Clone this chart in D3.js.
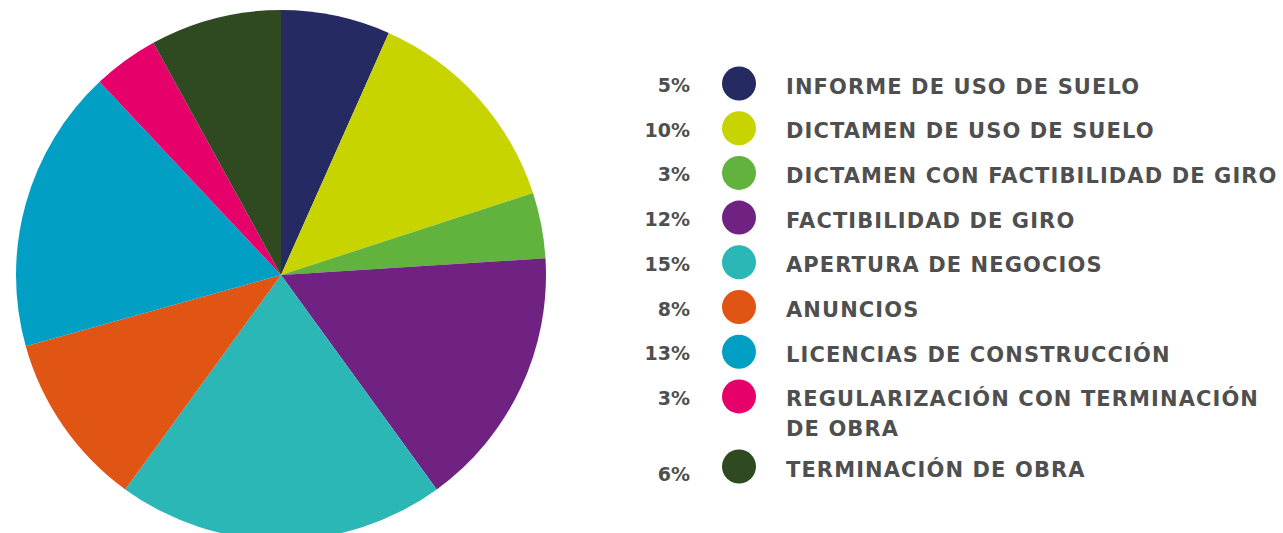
<html>
<head>
    <meta charset="utf-8">
    <title>Trámites</title>
    <style>
        body { margin: 0; background: #fff; }
        #pie { width: 1283px; height: 533px; overflow: hidden; }
        text { font-family: "DejaVu Sans", sans-serif; font-weight: 700; fill: #4f4f4f; }
    </style>
</head>
<body>
<div id="pie"></div>
<script src="https://d3js.org/d3.v7.min.js"></script>
<script>

  const width = 1283;
  const height = 533;

  const categories = [
    'INFORME DE USO DE SUELO',
    'DICTAMEN DE USO DE SUELO',
    'DICTAMEN CON FACTIBILIDAD DE GIRO',
    'FACTIBILIDAD DE GIRO',
    'APERTURA DE NEGOCIOS',
    'ANUNCIOS',
    'LICENCIAS DE CONSTRUCCIÓN',
    'REGULARIZACIÓN CON TERMINACIÓN DE OBRA',
    'TERMINACIÓN DE OBRA'
  ]
  const values = [5, 10, 3, 12, 15, 8, 13, 3, 6]
  const percentLabels = ['5%', '10%', '3%', '12%', '15%', '8%', '13%', '3%', '6%']
  const colors = ['#252b62', '#c8d400', '#62b23e', '#702283', '#2bb7b6', '#e05414', '#029fc5', '#e5006a', '#2f4a21']

  const data = categories.map((name, i) => ({ name, value: values[i], label: percentLabels[i], color: colors[i] }))

  const svg = d3.select('#pie')
    .append('svg')
    .attr('width', width)
    .attr('height', height)

  // pie
  const cx = 281, cy = 275, radius = 265
  const pie = d3.pie().sort(null).value(d => d.value)
  const arc = d3.arc().innerRadius(0).outerRadius(radius)

  svg.append('g')
    .attr('transform', `translate(${cx}, ${cy})`)
    .selectAll('path')
    .data(pie(data))
    .join('path')
    .attr('d', arc)
    .attr('fill', d => d.data.color)

  // legend
  const rowY = d3.scaleLinear().domain([0, 1]).range([83.5, 83.5 + 44.7])
  const rowIndex = [0, 1, 2, 3, 4, 5, 6, 7, 8.57]

  const legend = svg.append('g')
    .selectAll('g')
    .data(data)
    .join('g')
    .attr('transform', (d, i) => `translate(0, ${rowY(rowIndex[i])})`)

  legend.append('ellipse')
    .attr('cx', 739)
    .attr('cy', 0)
    .attr('rx', 17)
    .attr('ry', 17)
    .attr('fill', d => d.color)

  legend.append('text')
    .attr('x', 690)
    .attr('y', (d, i) => i === 8 ? 14 : 8.5)
    .attr('text-anchor', 'end')
    .style('font-size', '19px')
    .text(d => d.label)

  legend.each(function (d) {
    const lines = d.name.startsWith('REG')
      ? ['REGULARIZACIÓN CON TERMINACIÓN', 'DE OBRA']
      : [d.name]
    const t = d3.select(this).append('text')
      .attr('x', 786)
      .attr('y', 10)
      .style('font-size', '21px')
      .style('letter-spacing', '1.1px')
    lines.forEach((w, k) => {
      t.append('tspan').attr('x', 786).attr('dy', k === 0 ? 0 : 30).text(w)
    })
  })

</script>
</body>
</html>
